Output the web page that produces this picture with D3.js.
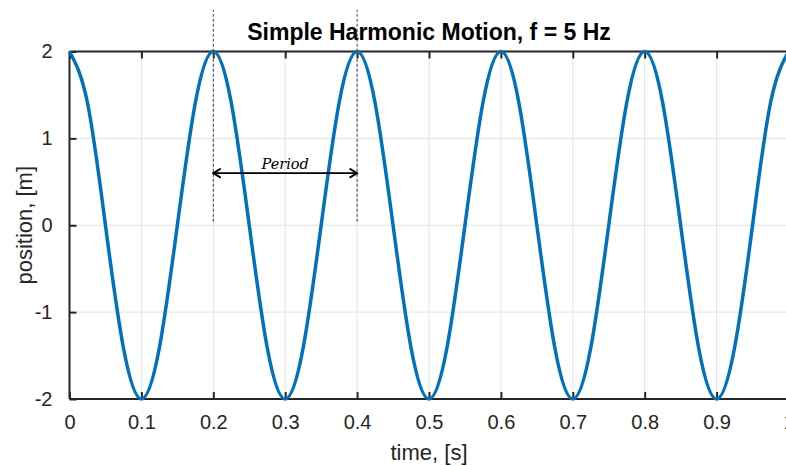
<!DOCTYPE html>
<html>
<head>
<meta charset="utf-8">
<script src="https://cdn.jsdelivr.net/npm/d3@7"></script>
<style>
  body { margin: 0; background: #fff; }
  text { font-family: "Liberation Sans", Arial, sans-serif; fill: #262626; }
</style>
</head>
<body>
<div id="chart"></div>
<script>
// samples, every 0.025 s
var time = [0, 0.025, 0.05, 0.075, 0.1, 0.125, 0.15, 0.175, 0.2, 0.225, 0.25, 0.275, 0.3, 0.325, 0.35, 0.375, 0.4,
    0.425, 0.45, 0.475, 0.5, 0.525, 0.55, 0.575, 0.6, 0.625, 0.65, 0.675, 0.7, 0.725, 0.75, 0.775, 0.8,
    0.825, 0.85, 0.875, 0.9, 0.925, 0.95, 0.975, 1];
var position = [2, 1.41, 0, -1.41, -2, -1.41, 0, 1.41, 2, 1.41, 0, -1.41, -2, -1.41, 0, 1.41, 2,
    1.41, 0, -1.41, -2, -1.41, 0, 1.41, 2, 1.41, 0, -1.41, -2, -1.41, 0, 1.41, 2,
    1.41, 0, -1.41, -2, -1.41, 0, 1.41, 2];
var xTicks = [0, 0.1, 0.2, 0.3, 0.4, 0.5, 0.6, 0.7, 0.8, 0.9, 1];
var yTicks = [-2, -1, 0, 1, 2];
// period marker: dashed lines at two peaks, arrow between them
var markerT = [0.2, 0.4];
var markerSpan = [0.04, 2.48];
var arrowY = 0.6;

var W = 786, H = 466;
var margin = {left: 69.5, right: -2.5, top: 51.5, bottom: 67};
var width = W - margin.left - margin.right,
    height = H - margin.top - margin.bottom;

var svg = d3.select("#chart").append("svg")
    .attr("width", W).attr("height", H);

var defs = svg.append("defs");
["end", "start"].forEach(function (k) {
    defs.append("marker")
        .attr("id", "arr-" + k)
        .attr("viewBox", "0 0 12 12")
        .attr("refX", k == "end" ? 10.5 : 1.5).attr("refY", 6)
        .attr("markerWidth", 12).attr("markerHeight", 12)
        .attr("markerUnits", "userSpaceOnUse")
        .attr("orient", "auto")
      .append("path")
        .attr("d", k == "end" ? "M3,1.5 L10.5,6 L3,10.5" : "M9,1.5 L1.5,6 L9,10.5")
        .attr("fill", "none").attr("stroke", "#000").attr("stroke-width", 1.8);
});

var g = svg.append("g").attr("transform", "translate(" + margin.left + "," + margin.top + ")");

var x = d3.scaleLinear().domain([0, 1]).range([0, width]);
var y = d3.scaleLinear().domain([-2, 2]).range([height, 0]);

// grid
g.append("g").selectAll("line").data(xTicks).enter().append("line")
    .attr("x1", x).attr("x2", x).attr("y1", 0).attr("y2", height)
    .attr("stroke", "#e3e3e3").attr("stroke-width", 1);
g.append("g").selectAll("line").data(yTicks).enter().append("line")
    .attr("y1", y).attr("y2", y).attr("x1", 0).attr("x2", width)
    .attr("stroke", "#e3e3e3").attr("stroke-width", 1);

// axes (ticks pointing inward, box style)
var tk = 7;
var xAxis = d3.axisBottom(x).tickValues(xTicks).tickSize(-tk).tickPadding(tk + 9)
    .tickFormat(function (d) { return d; });
var xTop = d3.axisTop(x).tickValues(xTicks).tickSize(-tk).tickFormat("");
var yAxis = d3.axisLeft(y).tickValues(yTicks).tickSize(-tk).tickPadding(tk + 10)
    .tickFormat(function (d) { return d < 0 ? "-" + (-d) : "" + d; });

function styleAxis(sel) {
    sel.select(".domain").attr("stroke", "#262626").attr("stroke-width", 2);
    sel.selectAll(".tick line").attr("stroke", "#262626").attr("stroke-width", 2);
    sel.selectAll(".tick text").style("font-size", "20px").attr("fill", "#262626");
}

g.append("g").attr("transform", "translate(0," + height + ")").call(xAxis).call(styleAxis)
    .select(".domain").attr("d", "M0,0H" + width);
g.append("g").call(xTop).call(styleAxis)
    .select(".domain").attr("d", "M0,0H" + width);
g.append("g").call(yAxis).call(styleAxis)
    .select(".domain").attr("d", "M0,0V" + height);

// curve
var line = d3.line()
    .x(function (d, i) { return x(time[i]); })
    .y(function (d) { return y(d); })
    .curve(d3.curveNatural);

g.append("path")
    .datum(position)
    .attr("d", line)
    .attr("fill", "none")
    .attr("stroke", "#0072BD")
    .attr("stroke-width", 3.5);

// period annotation
g.selectAll(".mark").data(markerT).enter().append("line")
    .attr("class", "mark")
    .attr("x1", x).attr("x2", x)
    .attr("y1", y(markerSpan[0])).attr("y2", y(markerSpan[1]))
    .attr("stroke", "#404040").attr("stroke-width", 1)
    .attr("stroke-dasharray", "3,2");

g.append("line")
    .attr("x1", x(markerT[0])).attr("x2", x(markerT[1]))
    .attr("y1", y(arrowY)).attr("y2", y(arrowY))
    .attr("stroke", "#000").attr("stroke-width", 1.8)
    .attr("marker-start", "url(#arr-start)")
    .attr("marker-end", "url(#arr-end)");

g.append("text")
    .attr("x", x((markerT[0] + markerT[1]) / 2))
    .attr("y", y(arrowY) - 4)
    .attr("text-anchor", "middle")
    .style("font-family", "'DejaVu Serif', serif")
    .style("font-style", "italic")
    .style("font-size", "14.5px")
    .style("fill", "#000")
    .text("Period");

// title and labels
svg.append("text")
    .attr("x", margin.left + width / 2)
    .attr("y", 40)
    .attr("text-anchor", "middle")
    .style("font-size", "23px")
    .style("font-weight", "bold")
    .style("fill", "#000")
    .text("Simple Harmonic Motion, f = 5 Hz");

svg.append("text")
    .attr("x", margin.left + width / 2)
    .attr("y", 460)
    .attr("text-anchor", "middle")
    .style("font-size", "22px")
    .text("time, [s]");

svg.append("text")
    .attr("transform", "translate(32," + (margin.top + height / 2) + ") rotate(-90)")
    .attr("text-anchor", "middle")
    .style("font-size", "22px")
    .text("position, [m]");
</script>
</body>
</html>
